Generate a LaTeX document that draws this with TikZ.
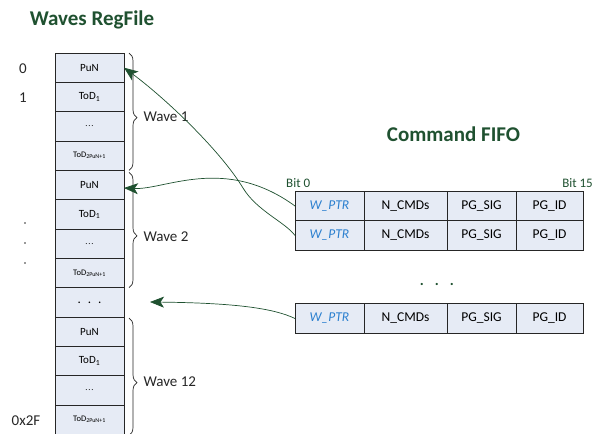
\documentclass[tikz,border=0pt]{standalone}
\usepackage{fontspec}
\setmainfont{Carlito}
\usetikzlibrary{arrows.meta,decorations.pathreplacing,calc}
\definecolor{dgreen}{HTML}{1F5130}
\definecolor{cellfill}{HTML}{E6EBF5}
\definecolor{wblue}{HTML}{2A7FCF}
\definecolor{edge}{HTML}{262626}
\begin{document}
\begin{tikzpicture}[x=1pt,y=-1pt,
  cell/.style={draw=edge, line width=0.8pt, fill=cellfill, minimum width=69pt, minimum height=29.33pt, inner sep=0pt, outer sep=0pt, font=\fontsize{11}{13}\selectfont},
  smallcell/.style={cell, font=\fontsize{8.5}{10}\selectfont},
  fcell/.style={draw=edge, line width=0.8pt, fill=cellfill, minimum height=29.5pt, inner sep=0pt, outer sep=0pt, font=\fontsize{13.5}{15}\selectfont},
  wcell/.style={fcell, minimum width=69pt, font=\fontsize{13.5}{15}\selectfont\itshape, text=wblue},
  title/.style={font=\fontsize{21}{24}\selectfont\bfseries, text=dgreen, anchor=base},
  lbl/.style={font=\fontsize{15}{17}\selectfont, text=black!85},
  bitlbl/.style={font=\fontsize{13}{15}\selectfont, text=dgreen, anchor=base west, inner sep=0pt},
  conn/.style={draw=dgreen, line width=0.7pt, -{Stealth[length=14pt,width=11pt,inset=3.5pt]}},
  wbrace/.style={draw=edge, line width=0.7pt, decorate, decoration={brace, amplitude=8pt, aspect=0.55}},
  ]
\useasboundingbox (0,0) rectangle (595,434);

% titles
\node[title] (t1) at (92,25) {Waves RegFile};
\node[title] (t2) at (453.5,141) {Command FIFO};

% register file column
\node[cell] (pa) at (89.5,67.67) {PuN};
\node[cell] (ta) at (89.5,97.0) {ToD\textsubscript{1}};
\node[smallcell] (ea) at (89.5,126.3) {.\kern0.8pt.\kern0.8pt.};
\node[smallcell] (la) at (89.5,155.7) {ToD\textsubscript{2PuN+1}};
\node[cell] (pb) at (89.5,185.0) {PuN};
\node[cell] (tb) at (89.5,214.3) {ToD\textsubscript{1}};
\node[smallcell] (eb) at (89.5,243.7) {.\kern0.8pt.\kern0.8pt.};
\node[smallcell] (lb) at (89.5,273.0) {ToD\textsubscript{2PuN+1}};
\node[cell, font=\fontsize{13}{15}\selectfont] (gap) at (89.5,302.3) {\raisebox{-3pt}{.\hspace{7pt}.\hspace{7pt}.}};
\node[cell] (pc) at (89.5,331.7) {PuN};
\node[cell] (tc) at (89.5,361.0) {ToD\textsubscript{1}};
\node[smallcell] (ec) at (89.5,390.3) {.\kern0.8pt.\kern0.8pt.};
\node[smallcell] (lc) at (89.5,419.7) {ToD\textsubscript{2PuN+1}};

% row labels
\node[lbl] (n0) at (23,69) {0};
\node[lbl] (n1) at (23,98) {1};
\node[lbl] (n2f) at (26,421) {0x2F};
\fill[black!80] (25,223) circle (0.9) (25,243) circle (0.9) (25,263) circle (0.9);

% braces
\draw[wbrace] ($(pa.north east)+(5,0)$) -- ($(la.south east)+(5,0)$);
\draw[wbrace] ($(pb.north east)+(5,2)$) -- ($(lb.south east)+(5,0)$);
\draw[wbrace] ($(pc.north east)+(5,1)$) -- ($(lc.south east)+(5,1)$);
\node[lbl, anchor=west] (wv1) at (140,117) {Wave 1};
\node[lbl, anchor=west] (wv2) at (140,237) {Wave 2};
\node[lbl, anchor=west] (wv12) at (140,382) {Wave 12};

% command FIFO
\node[bitlbl] (b0) at (286,187) {Bit 0};
\node[bitlbl, anchor=base east] (b15) at (593,187) {Bit 15};

\node[wcell] (w1) at (329.5,206) {W\_PTR};
\node[fcell, minimum width=83pt] (n1c) at (405.5,206) {N\_CMDs};
\node[fcell, minimum width=69pt] (s1) at (481.5,206) {PG\_SIG};
\node[fcell, minimum width=67pt] (i1) at (549.5,206) {PG\_ID};

\node[wcell] (w2) at (329.5,235.5) {W\_PTR};
\node[fcell, minimum width=83pt] (n2c) at (405.5,235.5) {N\_CMDs};
\node[fcell, minimum width=69pt] (s2) at (481.5,235.5) {PG\_SIG};
\node[fcell, minimum width=67pt] (i2) at (549.5,235.5) {PG\_ID};

\node[font=\fontsize{15}{16}\selectfont\bfseries, text=dgreen] (fdots) at (437,284) {.\hspace{11pt}.\hspace{11pt}.};

\node[wcell] (w3) at (329.5,318.5) {W\_PTR};
\node[fcell, minimum width=83pt] (n3c) at (405.5,318.5) {N\_CMDs};
\node[fcell, minimum width=69pt] (s3) at (481.5,318.5) {PG\_SIG};
\node[fcell, minimum width=67pt] (i3) at (549.5,318.5) {PG\_ID};

% connectors
\coordinate (a3) at (150,302);
\draw[conn] (w2.west) .. controls (285,222) and (257,211) .. (243,188)
  .. controls (220,150) and (165,98) .. (pa.east);
\draw[conn] (w1.west) .. controls (225,155) and (165,190) .. ($(pb.east)+(0,3)$);
\draw[conn] (w3.west) .. controls (275,309) and (240,303) .. (a3);
\end{tikzpicture}
\end{document}
